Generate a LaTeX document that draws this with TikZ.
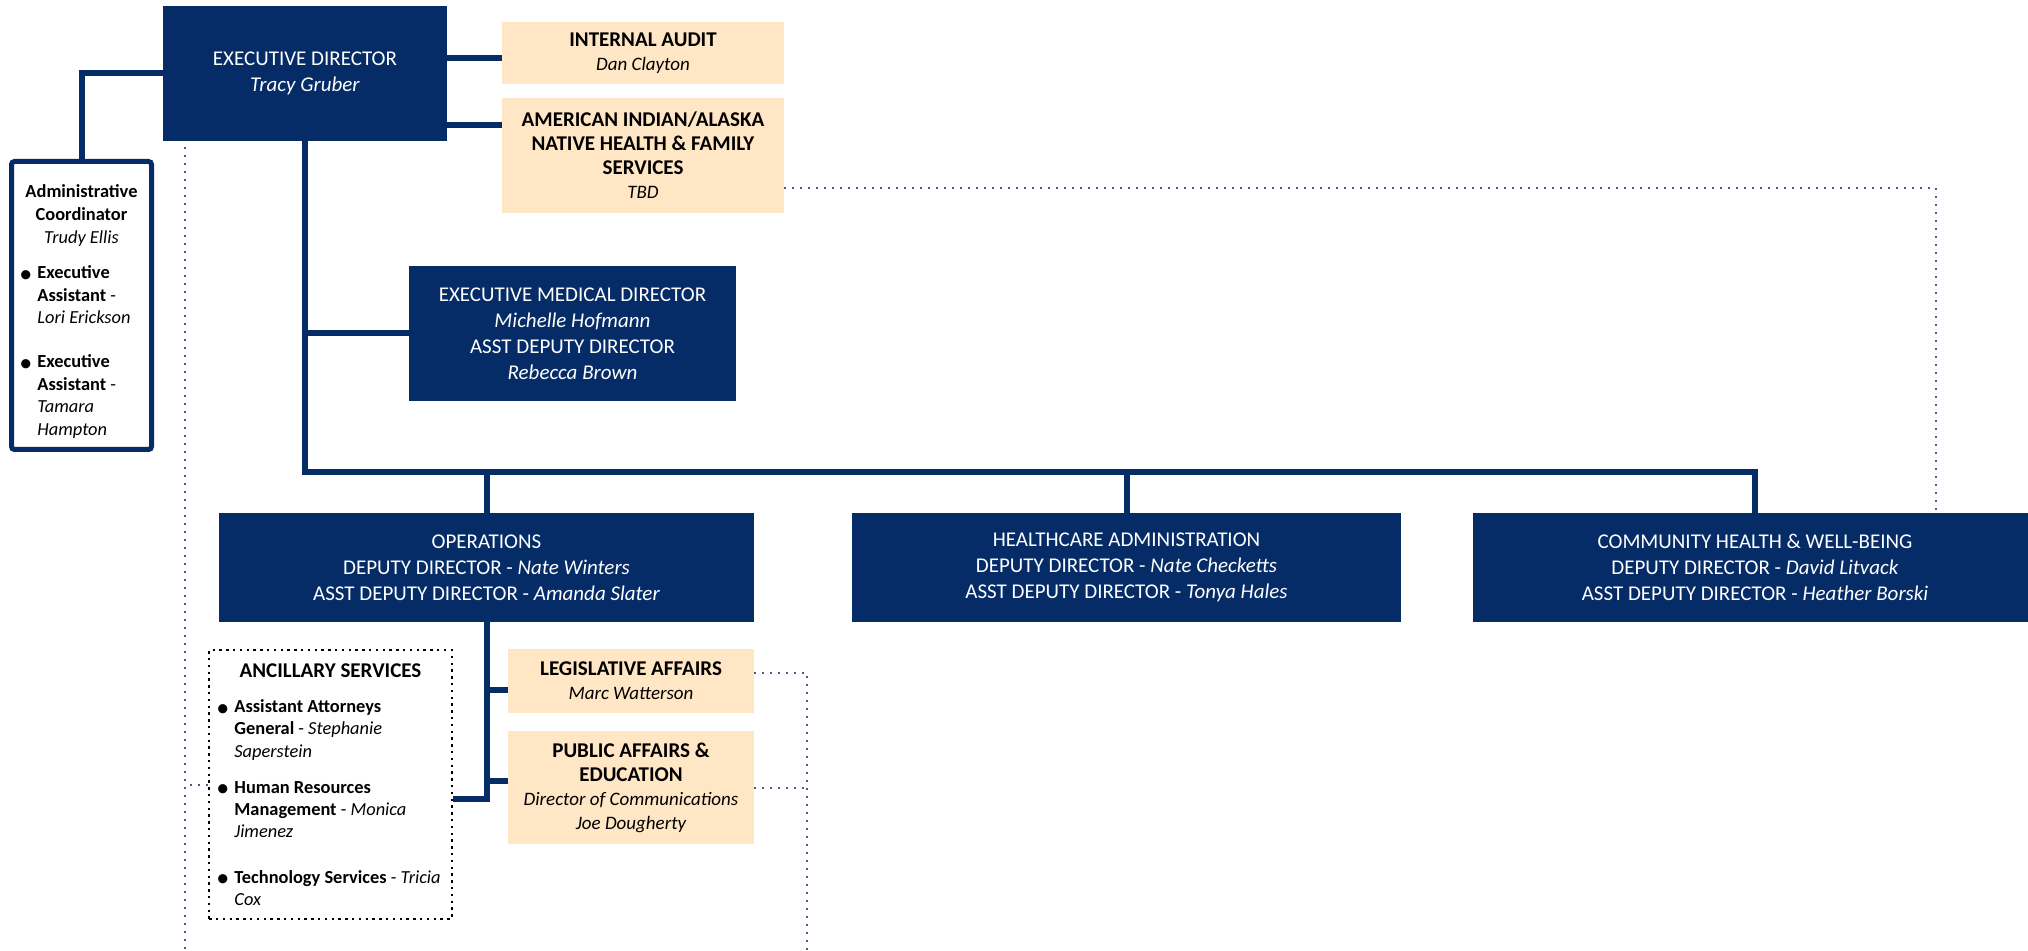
\documentclass[tikz,border=0pt]{standalone}
\usepackage{fontspec}
\setmainfont{Carlito}
\usepackage{tikz}

\definecolor{navy}{RGB}{5,44,102}
\definecolor{peach}{RGB}{255,230,196}
\definecolor{dotblue}{RGB}{72,92,140}
\newcommand{\pname}[1]{{\fontsize{9.5}{12}\selectfont\itshape #1}}
\newcommand{\bulmark}{\llap{\raisebox{-1.8pt}{\fontsize{13}{11.2}\selectfont\textbullet}\hspace{2.5pt}}}

\begin{document}
\begin{tikzpicture}[x=0.5pt,y=-0.5pt,
    navybox/.style={fill=navy,text=white,align=center,inner sep=0pt,font=\fontsize{10.5}{13}\selectfont},
    peachbox/.style={fill=peach,align=center,inner sep=0pt,font=\fontsize{10.5}{12}\selectfont},
    bul/.style={align=left,inner sep=0pt,anchor=west,font=\fontsize{9.2}{11.2}\selectfont},
    conn/.style={navy,line width=3pt},
    dots/.style={dotblue,line width=1pt,dash pattern=on 1pt off 3pt}]
    \useasboundingbox (0,0) rectangle (2028,951);

    \node[navybox,minimum width=142pt,minimum height=67.5pt] (1) at (305,73.5) {EXECUTIVE DIRECTOR\\\textit{Tracy Gruber}};
    \node[peachbox,minimum width=141pt,minimum height=31pt] (2) at (643,53) {\textbf{INTERNAL AUDIT}\\\pname{Dan Clayton}};
    \node[peachbox,minimum width=141pt,minimum height=57.5pt] (3) at (643,155.5) {\textbf{AMERICAN INDIAN/ALASKA}\\\textbf{NATIVE HEALTH \& FAMILY}\\\textbf{SERVICES}\\\pname{TBD}};

    \node[draw=navy,line width=2.5pt,rounded corners=1.5pt,minimum width=70pt,minimum height=144pt] (4) at (81.5,305.5) {};
    \node[align=center,inner sep=0pt,font=\fontsize{9.2}{11.4}\selectfont] (4a) at (81.5,215.5) {\textbf{Administrative}\\\textbf{Coordinator}\\\textit{Trudy Ellis}};
    \node[bul] (4b) at (37,295) {\bulmark\textbf{Executive}\\\textbf{Assistant} -\\\textit{Lori Erickson}};
    \node[bul] (4c) at (37,396.5) {\bulmark\textbf{Executive}\\\textbf{Assistant} -\\\textit{Tamara}\\\textit{Hampton}};

    \node[navybox,minimum width=163.5pt,minimum height=67.5pt] (5) at (572.5,333.5) {EXECUTIVE MEDICAL DIRECTOR\\\textit{Michelle Hofmann}\\ASST DEPUTY DIRECTOR\\\textit{Rebecca Brown}};

    \node[navybox,minimum width=267.5pt,minimum height=54.5pt] (6) at (486.5,567.5) {OPERATIONS\\DEPUTY DIRECTOR - \textit{Nate Winters}\\ASST DEPUTY DIRECTOR - \textit{Amanda Slater}};
    \node[navybox,minimum width=274.5pt,minimum height=54.5pt] (7) at (1126.5,567.5) {HEALTHCARE ADMINISTRATION\\DEPUTY DIRECTOR - \textit{Nate Checketts}\\ASST DEPUTY DIRECTOR - \textit{Tonya Hales}};
    \node[navybox,minimum width=282pt,minimum height=54.5pt] (8) at (1755,567.5) {COMMUNITY HEALTH \& WELL-BEING\\DEPUTY DIRECTOR - \textit{David Litvack}\\ASST DEPUTY DIRECTOR - \textit{Heather Borski}};

    \node[peachbox,minimum width=123pt,minimum height=32pt] (9) at (631,681) {\textbf{LEGISLATIVE AFFAIRS}\\\pname{Marc Watterson}};
    \node[peachbox,minimum width=123pt,minimum height=56.5pt] (10) at (631,787.5) {\textbf{PUBLIC AFFAIRS \&}\\\textbf{EDUCATION}\\\pname{Director of Communications}\\\pname{Joe Dougherty}};

    \node[draw,line width=1.2pt,dash pattern=on 1.2pt off 2.2pt,minimum width=121.3pt,minimum height=134.3pt] (11) at (330.5,784.5) {};
    \node[inner sep=0pt,font=\bfseries\fontsize{10.5}{12}\selectfont] (11a) at (330.5,671) {ANCILLARY SERVICES};
    \node[bul] (11b) at (234,730) {\bulmark\textbf{Assistant Attorneys}\\\textbf{General} - \textit{Stephanie}\\\textit{Saperstein}};
    \node[bul] (11c) at (234,809.5) {\bulmark\textbf{Human Resources}\\\textbf{Management} - \textit{Monica}\\\textit{Jimenez}};
    \node[bul] (11d) at (234,888) {\bulmark\textbf{Technology Services} - \textit{Tricia}\\\textit{Cox}};

    %% staff of the director
    \draw[conn] ([yshift=-2.5pt]2.west) -- ([yshift=-2.5pt]2.west -| 1.east);
    \draw[conn] ([yshift=15.25pt]3.west) -- ([yshift=15.25pt]3.west -| 1.east);
    \draw[conn] (1.west) -| (4.north);
    %% down the middle
    \coordinate (b) at (1.south |- 0,472);
    \draw[conn] (1.south) -- (b) -| (8.north);
    \draw[conn] (5.west) -- (5.west -| b);
    \draw[conn] (6.north) -- (6.north |- b);
    \draw[conn] (7.north) -- (7.north |- b);
    %% under operations
    \draw[conn] (6.south) |- ([yshift=-7.25pt]11.east);
    \draw[conn] ([yshift=-4.5pt]9.west) -- ([yshift=-4.5pt]9.west -| 6.south);
    \draw[conn] ([yshift=3.25pt]10.west) -- ([yshift=3.25pt]10.west -| 6.south);
    %% dotted links
    \coordinate (d) at ([xshift=11pt,yshift=-3pt]1.south west);
    \draw[dots] (d) -- (d |- 0,951);
    \draw[dots] (11.west) -- (11.west -| d);
    \draw[dots] ([yshift=-16.25pt]3.east) -| ([xshift=90.5pt]8.north);
    \coordinate (e) at ([xshift=26.5pt,yshift=4pt]9.east);
    \draw[dots] ([yshift=4pt]9.east) -- (e) -- (e |- 0,951);
    \draw[dots] (10.east) -- (10.east -| e);
\end{tikzpicture}
\end{document}
